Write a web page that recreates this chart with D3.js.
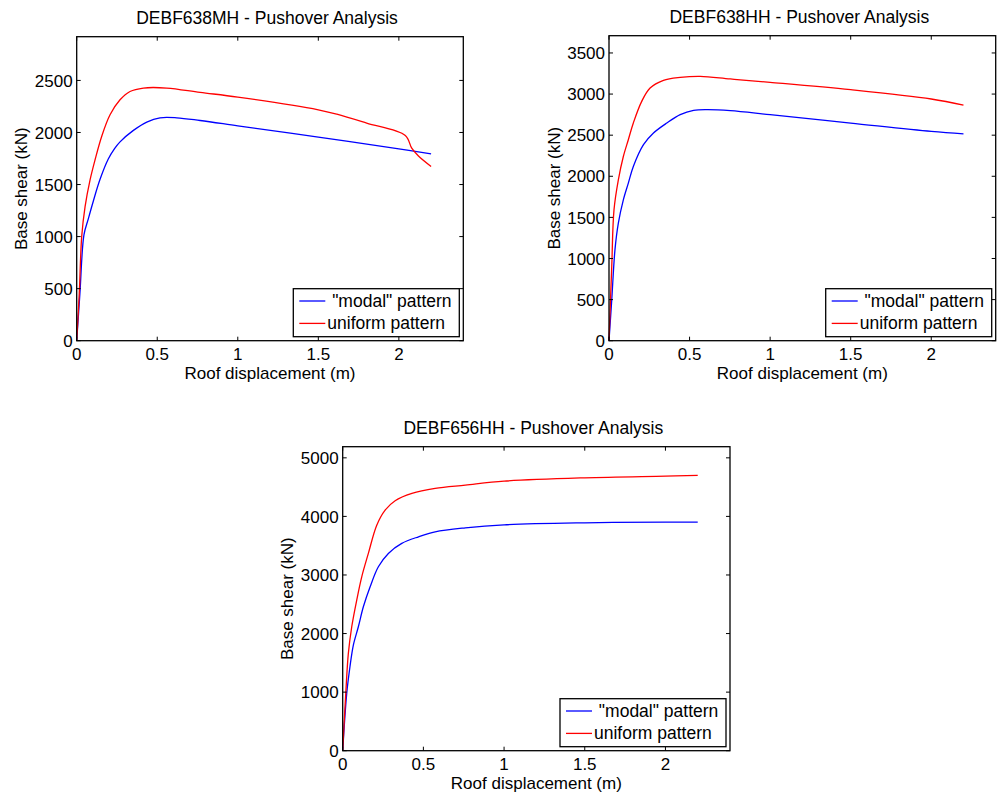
<!DOCTYPE html>
<html>
<head>
<meta charset="utf-8">
<script src="https://cdn.jsdelivr.net/npm/d3@7"></script>
<style>
  html, body { margin: 0; padding: 0; background: #fff; }
  svg text { font-family: "Liberation Sans", Arial, sans-serif; fill: #000; }
</style>
</head>
<body>
<svg id="chart" width="998" height="796"></svg>
<script>
// Pushover curves: [roof displacement (m), base shear (kN)]
const mhModal = [[0,0],[0.02,455],[0.045,1016],[0.072,1170],[0.103,1340],[0.145,1550],[0.196,1745],
  [0.235,1845],[0.269,1910],[0.352,2020],[0.435,2100],[0.517,2141],[0.621,2141],[0.766,2115],[1.0,2064],
  [1.5,1955],[2.0,1843],[2.2,1795]];
const mhUniform = [[0,0],[0.016,455],[0.031,1000],[0.052,1288],[0.083,1545],[0.114,1738],[0.155,1962],
  [0.207,2170],[0.269,2314],[0.331,2394],[0.414,2427],[0.559,2427],[0.766,2385],[1.0,2340],
  [1.5,2218],[1.615,2176],[1.8,2090],[2.04,1971],[2.08,1849],[2.12,1776],[2.2,1673]];

const hhModal = [[0,0],[0.017,496],[0.037,1105],[0.058,1430],[0.089,1714],[0.12,1917],[0.151,2119],
  [0.214,2384],[0.276,2526],[0.359,2648],[0.442,2749],[0.525,2801],[0.608,2810],[0.753,2798],
  [1.0,2749],[1.5,2647],[2.0,2546],[2.2,2517]];
const hhUniform = [[0,0],[0.017,901],[0.031,1592],[0.058,1957],[0.089,2241],[0.12,2445],[0.151,2648],
  [0.203,2911],[0.255,3074],[0.338,3167],[0.442,3203],[0.567,3216],[0.753,3184],[1.0,3143],
  [1.5,3053],[2.0,2940],[2.2,2866]];

const hh56Modal = [[0,0],[0.025,979],[0.045,1433],[0.066,1804],[0.097,2116],[0.128,2457],[0.17,2799],
  [0.221,3140],[0.283,3368],[0.366,3539],[0.47,3652],[0.573,3737],[0.76,3805],[1.0,3857],
  [1.5,3891],[2.0,3902],[2.2,3902]];
const hh56Uniform = [[0,0],[0.019,979],[0.035,1662],[0.056,2116],[0.087,2572],[0.118,2969],[0.159,3368],
  [0.211,3850],[0.263,4107],[0.325,4268],[0.429,4392],[0.573,4478],[0.76,4534],[1.0,4602],
  [1.5,4659],[2.0,4687],[2.2,4699]];

const xTicks = [0, 0.5, 1, 1.5, 2];
const yTicks638MH = [0, 500, 1000, 1500, 2000, 2500];
const yTicks638HH = [0, 500, 1000, 1500, 2000, 2500, 3000, 3500];
const yTicks656HH = [0, 1000, 2000, 3000, 4000, 5000];
const legendLabels = [" \"modal\" pattern", "uniform pattern"];
const seriesColors = ["#0000ff", "#ff0000"];

const panels = [
  { title: "DEBF638MH - Pushover Analysis", box: [76.7, 36.7, 463.3, 340.7], yMax: 2920,
    yTicks: yTicks638MH, series: [mhModal, mhUniform] },
  { title: "DEBF638HH - Pushover Analysis", box: [609, 35.7, 995.7, 340.7], yMax: 3710,
    yTicks: yTicks638HH, series: [hhModal, hhUniform] },
  { title: "DEBF656HH - Pushover Analysis", box: [342.7, 446.7, 730, 750.7], yMax: 5190,
    yTicks: yTicks656HH, series: [hh56Modal, hh56Uniform] }
];

const svg = d3.select("#chart");
const FS = 17;

panels.forEach(p => {
  const [x0, y0, x1, y1] = p.box;
  const x = d3.scaleLinear().domain([0, 2.4]).range([x0, x1]);
  const y = d3.scaleLinear().domain([0, p.yMax]).range([y1, y0]);
  const g = svg.append("g");

  // curves
  const line = d3.line().x(d => x(d[0])).y(d => y(d[1])).curve(d3.curveCatmullRom.alpha(0.5));
  p.series.forEach((s, i) => {
    g.append("path").datum(s)
      .attr("d", line)
      .attr("fill", "none")
      .attr("stroke", seriesColors[i])
      .attr("stroke-width", 1.3);
  });

  // ticks pointing inward, on all four sides (MATLAB box)
  const tl = 4;
  const fmtX = d3.format("~g");
  [[y1, 1], [y0, -1]].forEach(([yy, dir]) => {
    g.append("g").selectAll("line").data(xTicks).enter().append("line")
      .attr("x1", d => x(d)).attr("x2", d => x(d))
      .attr("y1", yy).attr("y2", yy - dir * tl)
      .attr("stroke", "#000").attr("stroke-width", 1);
  });
  [[x0, 1], [x1, -1]].forEach(([xx, dir]) => {
    g.append("g").selectAll("line").data(p.yTicks).enter().append("line")
      .attr("y1", d => y(d)).attr("y2", d => y(d))
      .attr("x1", xx).attr("x2", xx + dir * tl)
      .attr("stroke", "#000").attr("stroke-width", 1);
  });

  // frame
  g.append("rect")
    .attr("x", x0).attr("y", y0).attr("width", x1 - x0).attr("height", y1 - y0)
    .attr("fill", "none").attr("stroke", "#000").attr("stroke-width", 1.3);

  // tick labels
  g.append("g").selectAll("text").data(xTicks).enter().append("text")
    .attr("x", d => x(d)).attr("y", y1 + 19)
    .attr("text-anchor", "middle").style("font-size", FS + "px")
    .text(d => fmtX(d));
  g.append("g").selectAll("text").data(p.yTicks).enter().append("text")
    .attr("x", x0 - 4).attr("y", d => y(d)).attr("dy", "0.36em")
    .attr("text-anchor", "end").style("font-size", FS + "px")
    .text(d => d);

  // axis titles
  g.append("text")
    .attr("x", (x0 + x1) / 2).attr("y", y1 + 38.5)
    .attr("text-anchor", "middle").style("font-size", FS + "px")
    .text("Roof displacement (m)");
  g.append("text")
    .attr("transform", `translate(${x0 - 49.5},${(y0 + y1) / 2}) rotate(-90)`)
    .attr("text-anchor", "middle").style("font-size", FS + "px")
    .text("Base shear (kN)");
  g.append("text")
    .attr("x", (x0 + x1) / 2 - 3).attr("y", y0 - 12.5)
    .attr("text-anchor", "middle").style("font-size", "17.5px")
    .text(p.title);

  // legend
  const lw = 166, lh = 48;
  const lx = x1 - 4 - lw, ly = y1 - 4 - lh;
  const lg = g.append("g").attr("transform", `translate(${lx},${ly})`);
  lg.append("rect").attr("width", lw).attr("height", lh)
    .attr("fill", "#fff").attr("stroke", "#000").attr("stroke-width", 1.3);
  legendLabels.forEach((lab, i) => {
    const yy = 12.3 + i * 22.4;
    lg.append("line").attr("x1", 6).attr("x2", 32).attr("y1", yy).attr("y2", yy)
      .attr("stroke", seriesColors[i]).attr("stroke-width", 1.3);
    lg.append("text").attr("x", 34).attr("y", yy + 5.8)
      .style("font-size", "17.5px").style("white-space", "pre")
      .attr("xml:space", "preserve")
      .text(lab);
  });
});
</script>
</body>
</html>
